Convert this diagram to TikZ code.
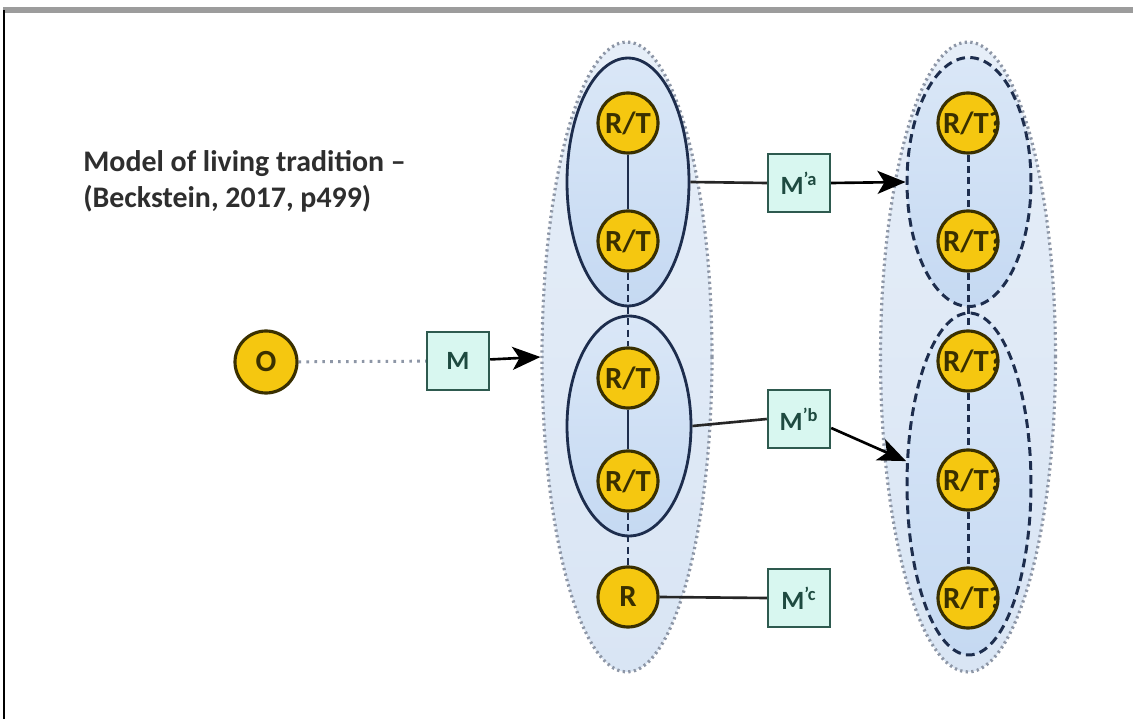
\documentclass[tikz,border=0pt]{standalone}
\usepackage{fontspec}
\setmainfont{Carlito}
\usetikzlibrary{shapes.geometric,arrows.meta,calc}

\definecolor{nodegold}{HTML}{F5C710}
\definecolor{nodeedge}{HTML}{3A3000}
\definecolor{boxfill}{HTML}{D8F7F0}
\definecolor{boxedge}{HTML}{2E5A4F}
\definecolor{boxtext}{HTML}{1E4A40}
\definecolor{navy}{HTML}{1D2D4D}
\definecolor{dotgray}{HTML}{8D96A6}
\definecolor{framegray}{HTML}{9C9C9C}
\definecolor{titletext}{HTML}{2E2E2E}
\definecolor{zonetop}{HTML}{E6EEF8}
\definecolor{zonebottom}{HTML}{D9E5F4}
\definecolor{grouptop}{HTML}{DAE7F7}
\definecolor{groupbottom}{HTML}{C5D9F2}

\pgfdeclarelayer{zones}
\pgfdeclarelayer{links}
\pgfsetlayers{zones,links,main}

\tikzset{
  rtnode/.style={circle, draw=nodeedge, line width=1.8pt, fill=nodegold,
    minimum size=1.2cm, inner sep=0pt, text=nodeedge,
    font=\fontsize{17.5}{19}\selectfont\bfseries},
  % label set from the left edge and cut off by the circle
  cliplabel/.style={rtnode, path picture={
    \node[anchor=west, inner sep=0pt, text=nodeedge,
      font=\fontsize{17.5}{19}\selectfont\bfseries]
      at ([xshift=0.03cm]path picture bounding box.west) {#1};}},
  mbox/.style={rectangle, draw=boxedge, line width=1.4pt, fill=boxfill,
    minimum width=1.24cm, minimum height=1.16cm, inner sep=0pt, text=boxtext,
    font=\fontsize{15}{17}\selectfont\bfseries},
  outerzone/.style={ellipse, draw=dotgray, line width=1.8pt,
    dash pattern=on 1.3pt off 1.9pt, top color=zonetop, bottom color=zonebottom,
    inner sep=0pt},
  solidgroup/.style={ellipse, draw=navy, line width=1.6pt,
    top color=grouptop, bottom color=groupbottom, inner sep=0pt},
  dashgroup/.style={ellipse, draw=navy, line width=1.7pt,
    dash pattern=on 5pt off 3pt, top color=grouptop, bottom color=groupbottom,
    inner sep=0pt},
  tie/.style={draw=navy, line width=1.7pt},
  tiedash/.style={draw=navy, line width=1.7pt, dash pattern=on 4pt off 2.5pt},
  flow/.style={draw=black, line width=1.5pt,
    -{Stealth[length=0.56cm, width=0.46cm, inset=0.14cm]}},
  link/.style={draw=black!85, line width=1.5pt},
  titlefont/.style={font=\fontsize{17}{20}\selectfont\bfseries, text=titletext,
    inner sep=0pt}
}

\begin{document}
\begin{tikzpicture}[x=0.02cm, y=-0.02cm]
\useasboundingbox (0,0) rectangle (1133,719);

\begin{pgfonlayer}{zones}
\fill[white] (0,0) rectangle (1133,719);
% page frame
\draw[framegray, line width=3pt] (3,10) -- (1133,10);
\draw[black, line width=1.3pt] (4,10) -- (4,719);

% outer zones
\node[outerzone, minimum width=3.4cm, minimum height=12.6cm] (zoneL) at (627,357) {};
\node[outerzone, minimum width=3.5cm, minimum height=12.6cm] (zoneR) at (968,357) {};

% groups in the left zone
\node[solidgroup, minimum width=2.44cm, minimum height=4.96cm] (e1) at (628,182) {};
\node[solidgroup, minimum width=2.48cm, minimum height=4.4cm] (e2) at (629,426) {};

% groups in the right zone
\node[dashgroup, minimum width=2.48cm, minimum height=4.98cm] (d1) at (969,182) {};
\node[dashgroup, minimum width=2.48cm, minimum height=6.84cm] (d2) at (969,484) {};
\end{pgfonlayer}

% title
\node[titlefont, anchor=base west] (title1) at (83,172) {Model of living tradition –};
\node[titlefont, anchor=base west] (title2) at (83,208) {(Beckstein, 2017, p499)};

% left chain
\node[rtnode] (l1) at (628,123) {R/T};
\node[rtnode] (l2) at (628,241) {R/T};
\node[rtnode] (l3) at (628,378) {R/T};
\node[rtnode] (l4) at (628,481) {R/T};
\node[rtnode] (l5) at (628,597) {R};

% right chain
\node[cliplabel={R/T?}] (r1) at (968,123) {};
\node[cliplabel={R/T?}] (r2) at (968,241) {};
\node[cliplabel={R/T?}] (r3) at (968,361) {};
\node[cliplabel={R/T?}] (r4) at (968,480) {};
\node[cliplabel={R/T?}] (r5) at (968,598) {};

% chain links, kept beneath the circles
\begin{pgfonlayer}{links}
\draw[tie] (l1) -- (l2);
\draw[tiedash] (l2) -- (l3);
\draw[tie] (l3) -- (l4);
\draw[tiedash] (l4) -- (l5);
\draw[tiedash] (r1) -- (r2);
\draw[tiedash] (r2) -- (r3);
\draw[tiedash] (r3) -- (r4);
\draw[tiedash] (r4) -- (r5);
\end{pgfonlayer}

% origin and mediation
\node[rtnode, minimum size=1.24cm] (o) at (266,362) {O};
\node[mbox] (m) at (458,361) {M};
\node[mbox] (ma) at (799,183) {M\textsuperscript{'a}};
\node[mbox] (mb) at (799,419) {M\textsuperscript{'b}};
\node[mbox] (mc) at (799,598) {M\textsuperscript{'c}};

\draw[dotgray, line width=1.7pt, dash pattern=on 1.5pt off 3pt] (o) -- (m);
\draw[flow] (m) -- (zoneL.west);

\draw[link] (e1.east) -- (ma.west);
\draw[flow] (ma.east) -- (d1.west);

\draw[link] (e2.east) -- (mb.west);
\coordinate (mbout) at ($(mb.east)+(0,9)$);
\draw[flow] (mbout) -- (d2.160);

\draw[link] (l5.east) -- (mc.west);
\end{tikzpicture}
\end{document}
